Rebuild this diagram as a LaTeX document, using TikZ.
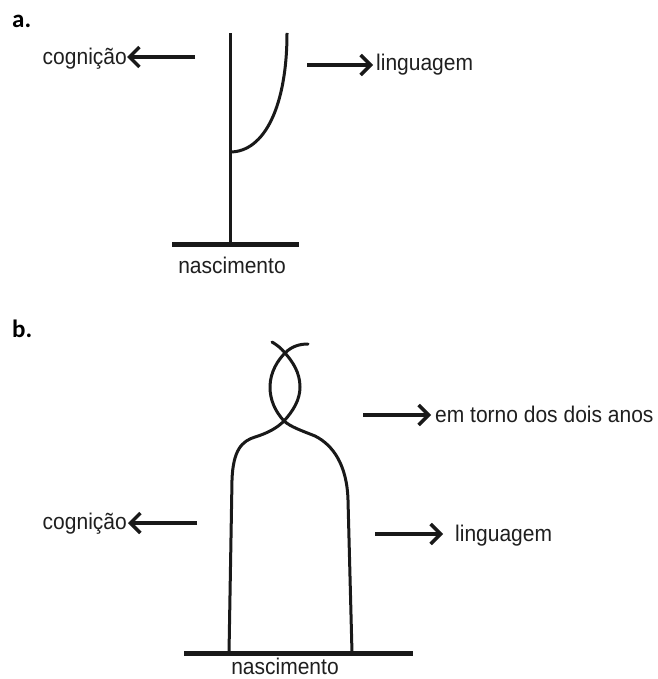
\documentclass[tikz,border=0pt]{standalone}
\usepackage{fontspec}
\setmainfont{Liberation Sans}
\newfontfamily\panelfont{Carlito}
\usetikzlibrary{arrows.meta}

% labels are set in a slightly tall sans serif
\newcommand{\tallword}[1]{\scalebox{1}[1.08]{#1}}

\tikzset{
  label text/.style={inner sep=0pt, font=\fontsize{21}{25}\selectfont, text=black!88},
  panel/.style={inner sep=0pt, font=\panelfont\bfseries\fontsize{25}{29}\selectfont, anchor=base west},
  stem/.style={line width=3pt, black!90},
  ground/.style={line width=5pt, black!90},
  pointer/.style={line width=3.5pt, black!90, -{Straight Barb[length=10pt, width=20pt, line width=3.5pt]}},
}

\begin{document}
\begin{tikzpicture}[x=1pt, y=-1pt]
\useasboundingbox (0,0) rectangle (657,679);

% ---------- panel a: separate development ----------
\node[panel] (pa) at (12,28) {a.};

\coordinate (aGL) at (172,244);
\coordinate (aGR) at (299,244);
\draw[ground] (aGL) -- (aGR);

\coordinate (aBase) at (230,244);
\coordinate (aTop) at (230,33);
\coordinate (aSplit) at (230,152);
\coordinate (aEnd) at (287,33);
\draw[stem] (aBase) -- (aTop);
\draw[stem] (aSplit) .. controls (265,152) and (287,105) .. (aEnd);

\node[label text, anchor=base east] (aCog) at (127,65) {\tallword{cognição}};
\coordinate (aCogTail) at (195,57);
\draw[pointer] (aCogTail) -- (aCogTail -| aCog.east);

\node[label text, anchor=base west] (aLing) at (376,71) {\tallword{linguagem}};
\coordinate (aLingTail) at (307,65);
\draw[pointer] (aLingTail) -- ([xshift=-3pt]aLingTail -| aLing.west);

\node[label text, anchor=base] (aNasc) at (232,273) {\tallword{nascimento}};

% ---------- panel b: intertwined development ----------
\node[panel] (pb) at (12,337) {b.};

\coordinate (bGL) at (184,653);
\coordinate (bGR) at (413,653);
\draw[ground] (bGL) -- (bGR);

\coordinate (bL) at (229,653);
\coordinate (bR) at (352,653);
\coordinate (bX1) at (284,421);
\coordinate (bX2) at (285,353);
\coordinate (bTipL) at (272,342);
\coordinate (bTipR) at (308,344);

% strand rising on the left, crossing to the right side of the loop
\draw[stem, line cap=round] (bL) -- (232,480)
  .. controls (233,450) and (242,441) .. (255,437)
  .. controls (268,433) and (277,428) .. (bX1)
  .. controls (293,411) and (300,400) .. (300,387)
  .. controls (300,372) and (292,361) .. (bX2)
  .. controls (281,348) and (277,345) .. (bTipL);

% strand rising on the right, crossing to the left side of the loop
\draw[stem, line cap=round] (bR) -- (348,500)
  .. controls (347,465) and (333,445) .. (315,436)
  .. controls (300,430) and (291,427) .. (bX1)
  .. controls (275,411) and (270,400) .. (270,387)
  .. controls (270,372) and (278,360) .. (bX2)
  .. controls (292,346) and (300,344) .. (bTipR);

\node[label text, anchor=base west] (bTwo) at (435,422) {\tallword{em torno dos dois anos}};
\coordinate (bTwoTail) at (363,415);
\draw[pointer] (bTwoTail) -- ([xshift=-4pt]bTwoTail -| bTwo.west);

\node[label text, anchor=base east] (bCog) at (127,529) {\tallword{cognição}};
\coordinate (bCogTail) at (197,523);
\draw[pointer] (bCogTail) -- ([xshift=1pt]bCogTail -| bCog.east);

\node[label text, anchor=base west] (bLing) at (455,541) {\tallword{linguagem}};
\coordinate (bLingTail) at (375,534);
\draw[pointer] (bLingTail) -- ([xshift=-12pt]bLingTail -| bLing.west);

\node[label text, anchor=base] (bNasc) at (285,674) {\tallword{nascimento}};
\end{tikzpicture}
\end{document}
